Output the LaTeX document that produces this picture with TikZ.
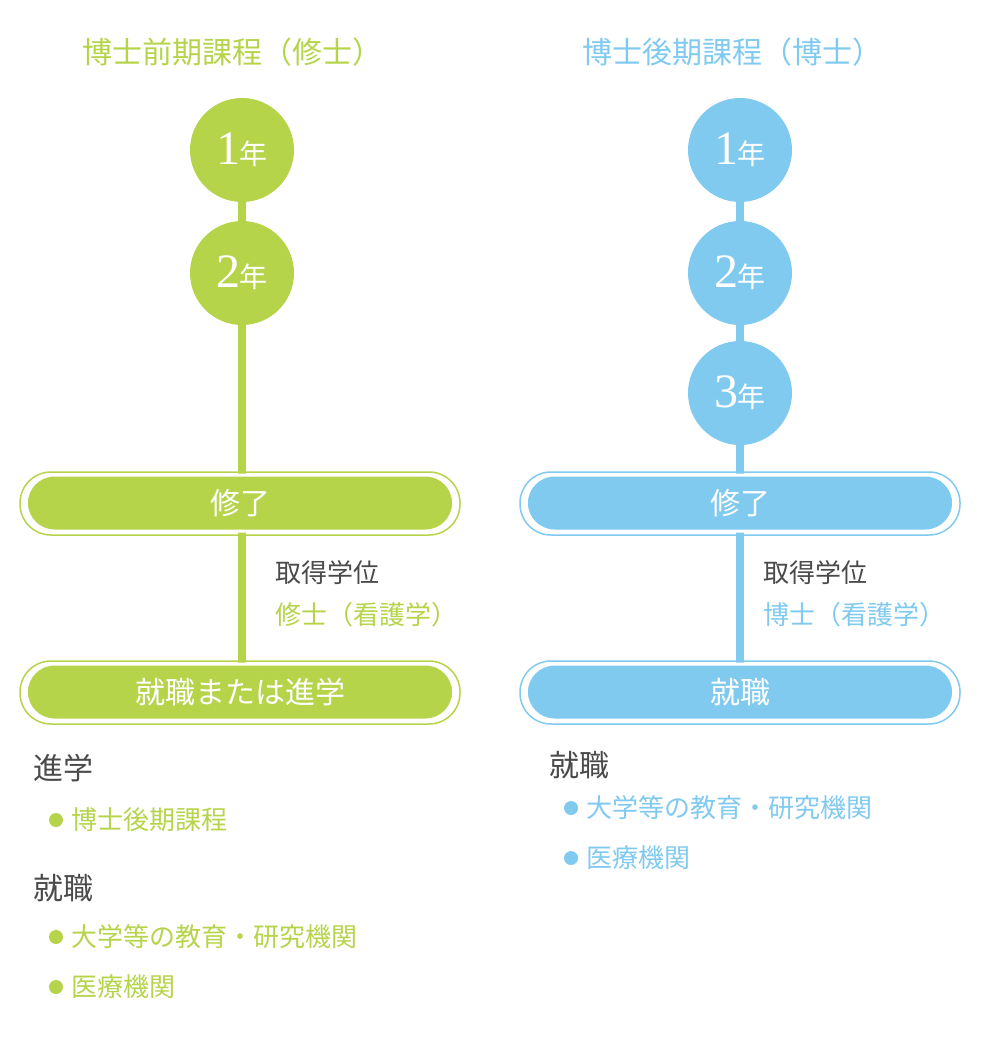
\documentclass[tikz,border=0pt]{standalone}
\usepackage{fontspec}
\setmainfont{Noto Sans CJK JP}
\newfontfamily\numfont{Liberation Serif}
\definecolor{grn}{HTML}{B5D44A}
\definecolor{blu}{HTML}{80CAF0}
\definecolor{txt}{HTML}{4A4A4A}
\tikzset{
 yr/.style={circle,fill=#1,minimum size=104pt,inner sep=0pt,text=white},
 pill/.style={rounded rectangle,fill=#1,draw=white,line width=3pt,minimum width=434pt,minimum height=56pt,text=white,font=\fontsize{30}{30}\selectfont,
   append after command={\pgfextra{\let\tmpn\tikzlastnode}}},
 ttl/.style={font=\fontsize{30}{30}\selectfont},
 lbl/.style={font=\fontsize{26}{26}\selectfont,anchor=west},
 hd/.style={font=\fontsize{30}{30}\selectfont,anchor=west,text=txt},
 dot/.style={circle,fill=#1,minimum size=14pt,inner sep=0pt},
}
\usetikzlibrary{shapes.misc}
\newcommand{\yrtxt}[1]{{\numfont\fontsize{48}{48}\selectfont #1}\hspace{-1pt}{\fontsize{28}{28}\selectfont 年}}
\begin{document}
\begin{tikzpicture}[x=1pt,y=-1pt]
\useasboundingbox (0,0) rectangle (1000,1040);
% left
\node[ttl,text=grn] (lt) at (232,52) {博士前期課程（修士）};
\draw[grn,line width=8pt] (242,150) -- (242,692);
\node[yr=grn] (l1) at (242,150) {\yrtxt{1}};
\node[yr=grn] (l2) at (242,273) {\yrtxt{2}};
\node[pill=grn] (lp1) at (240,503) {修了};
\draw[grn,line width=1.5pt,rounded corners=31pt] (20,472) rectangle (460,535);
\node[pill=grn] (lp2) at (240,692) {就職または進学};
\draw[grn,line width=1.5pt,rounded corners=31pt] (20,661) rectangle (460,724);
\node[lbl,text=txt] (la) at (272,573) {取得学位};
\node[lbl,text=grn] (lb) at (272,615) {修士（看護学）};
\node[hd] (lh1) at (30,768) {進学};
\node[dot=grn] (ld1) at (56,820) {};
\node[lbl,text=grn] (lt1) at (68,820) {博士後期課程};
\node[hd] (lh2) at (30,888) {就職};
\node[dot=grn] (ld2) at (56,937) {};
\node[lbl,text=grn] (lt2) at (68,937) {大学等の教育・研究機関};
\node[dot=grn] (ld3) at (56,987) {};
\node[lbl,text=grn] (lt3) at (68,987) {医療機関};
% right
\node[ttl,text=blu] (rt) at (732,52) {博士後期課程（博士）};
\draw[blu,line width=8pt] (740,150) -- (740,692);
\node[yr=blu] (r1) at (740,150) {\yrtxt{1}};
\node[yr=blu] (r2) at (740,273) {\yrtxt{2}};
\node[yr=blu] (r3) at (740,393) {\yrtxt{3}};
\node[pill=blu] (rp1) at (740,503) {修了};
\draw[blu,line width=1.5pt,rounded corners=31pt] (520,472) rectangle (960,535);
\node[pill=blu] (rp2) at (740,692) {就職};
\draw[blu,line width=1.5pt,rounded corners=31pt] (520,661) rectangle (960,724);
\node[lbl,text=txt] (ra) at (760,573) {取得学位};
\node[lbl,text=blu] (rb) at (760,615) {博士（看護学）};
\node[hd] (rh1) at (546,765) {就職};
\node[dot=blu] (rd1) at (571,808) {};
\node[lbl,text=blu] (rt1) at (583,808) {大学等の教育・研究機関};
\node[dot=blu] (rd2) at (571,858) {};
\node[lbl,text=blu] (rt2) at (583,858) {医療機関};
\end{tikzpicture}
\end{document}
